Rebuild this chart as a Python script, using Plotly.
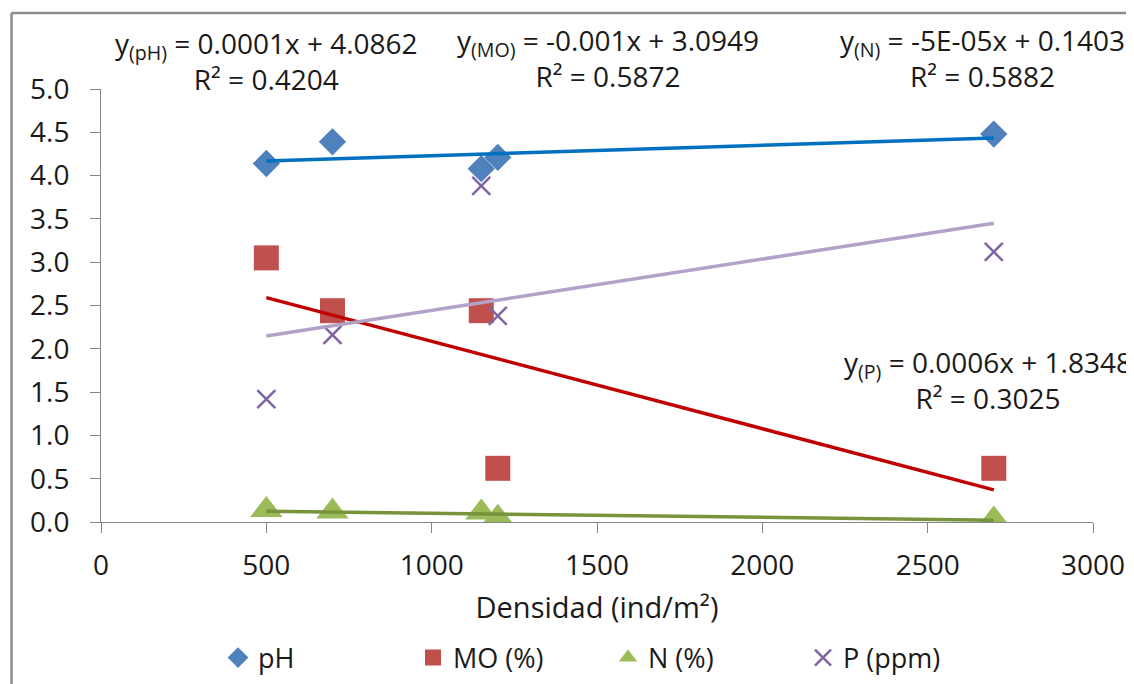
import numpy as np
import plotly.graph_objects as go

# ---- data ----
densidad = [500, 700, 1150, 1200, 2700]
ph = [4.14, 4.39, 4.08, 4.21, 4.48]
mo = [3.05, 2.44, 2.44, 0.62, 0.62]
n_pct = [0.14, 0.12, 0.11, 0.05, 0.03]
p_ppm = [1.42, 2.16, 3.88, 2.38, 3.12]

series_names = ["pH", "MO (%)", "N (%)", "P (ppm)"]
equations = [
    "y<sub>(pH)</sub> = 0.0001x + 4.0862",
    "y<sub>(MO)</sub> = -0.001x + 3.0949",
    "y<sub>(N)</sub> = -5E-05x + 0.1403",
    "y<sub>(P)</sub> = 0.0006x + 1.8348",
]
r2_labels = ["R² = 0.4204", "R² = 0.5872", "R² = 0.5882", "R² = 0.3025"]
x_title = "Densidad (ind/m²)"

FONT = "Open Sans"
TXT = "#1a1a1a"
OFF = 8  # default page body margin
W, H = 1134, 684
# target plot box on screen: x 101..1093, y 89..522
ML = 101 - OFF
MT = 89 - OFF
MR = W - (1093 - OFF)
MB = H - (522 - OFF)
PW, PH = W - ML - MR, H - MT - MB


def px(x):
    return (x - OFF - ML) / PW


def py(y):
    return (H - MB - (y - OFF)) / PH


fig = go.Figure()

marker_styles = [
    dict(symbol="diamond", size=21, color="#4F81BD", line=dict(width=0)),
    dict(symbol="square", size=25, color="#C0504D", line=dict(width=0)),
    dict(symbol="triangle-up", size=28, color="#9BBB59", line=dict(width=0)),
    dict(symbol="x-thin", size=18, color="#8064A2", line=dict(width=2.5, color="#8064A2")),
]
trend_colors = ["#0070C0", "#C00000", "#77933C", "#B3A2C7"]
all_y = [ph, mo, n_pct, p_ppm]

for name, ys, ms in zip(series_names, all_y, marker_styles):
    fig.add_trace(go.Scatter(x=densidad, y=ys, mode="markers", name=name, marker=ms))

xs = np.array(densidad, dtype=float)
xr = np.array([xs.min(), xs.max()])
for ys, col in zip(all_y, trend_colors):
    slope, icpt = np.polyfit(xs, np.array(ys, dtype=float), 1)
    fig.add_trace(go.Scatter(x=xr, y=slope * xr + icpt, mode="lines",
                             line=dict(color=col, width=3.5), showlegend=False,
                             hoverinfo="skip"))

# centre of each two-line equation label (screen pixels)
ann_pos = [(266, 61), (608, 58), (982, 58), (988, 380)]
annotations = []
for eq, r2, (xx, yy) in zip(equations, r2_labels, ann_pos):
    annotations.append(dict(text=eq + "<br>" + r2, x=px(xx), y=py(yy),
                            xref="paper", yref="paper", align="center",
                            xanchor="center", yanchor="middle", showarrow=False,
                            font=dict(family=FONT, size=28, color=TXT)))

border = "#8C8C8C"
shapes = [
    dict(type="line", xref="paper", yref="paper", x0=px(11.5), x1=px(W + 20),
         y0=py(13), y1=py(13), line=dict(color=border, width=2.5)),
    dict(type="line", xref="paper", yref="paper", x0=px(11.5), x1=px(11.5),
         y0=py(13), y1=py(H + 20), line=dict(color=border, width=2.5)),
]

axis_common = dict(showgrid=False, zeroline=False, showline=True, linecolor="#868686",
                   linewidth=1, ticks="outside", ticklen=10, tickcolor="#868686",
                   tickwidth=1, tickfont=dict(family=FONT, size=28, color=TXT))

fig.update_layout(
    width=W, height=H,
    margin=dict(l=ML, r=MR, t=MT, b=MB, autoexpand=False),
    paper_bgcolor="white", plot_bgcolor="white",
    font=dict(family=FONT, color=TXT),
    xaxis=dict(range=[0, 3000], tickvals=[0, 500, 1000, 1500, 2000, 2500, 3000],
               ticklabelstandoff=8,
               title=dict(text=x_title, standoff=16,
                          font=dict(family=FONT, size=29, color=TXT)),
               **axis_common),
    yaxis=dict(range=[0, 5], tickvals=[0, 0.5, 1, 1.5, 2, 2.5, 3, 3.5, 4, 4.5, 5],
               tickformat=".1f", ticklabelstandoff=15, **axis_common),
    legend=dict(orientation="h", x=px(608), xanchor="center", y=py(658), yanchor="middle",
                font=dict(family=FONT, size=27, color=TXT),
                entrywidth=150, entrywidthmode="pixels", itemsizing="trace"),
    annotations=annotations,
    shapes=shapes,
    showlegend=True,
)

fig.write_html("out.html")
